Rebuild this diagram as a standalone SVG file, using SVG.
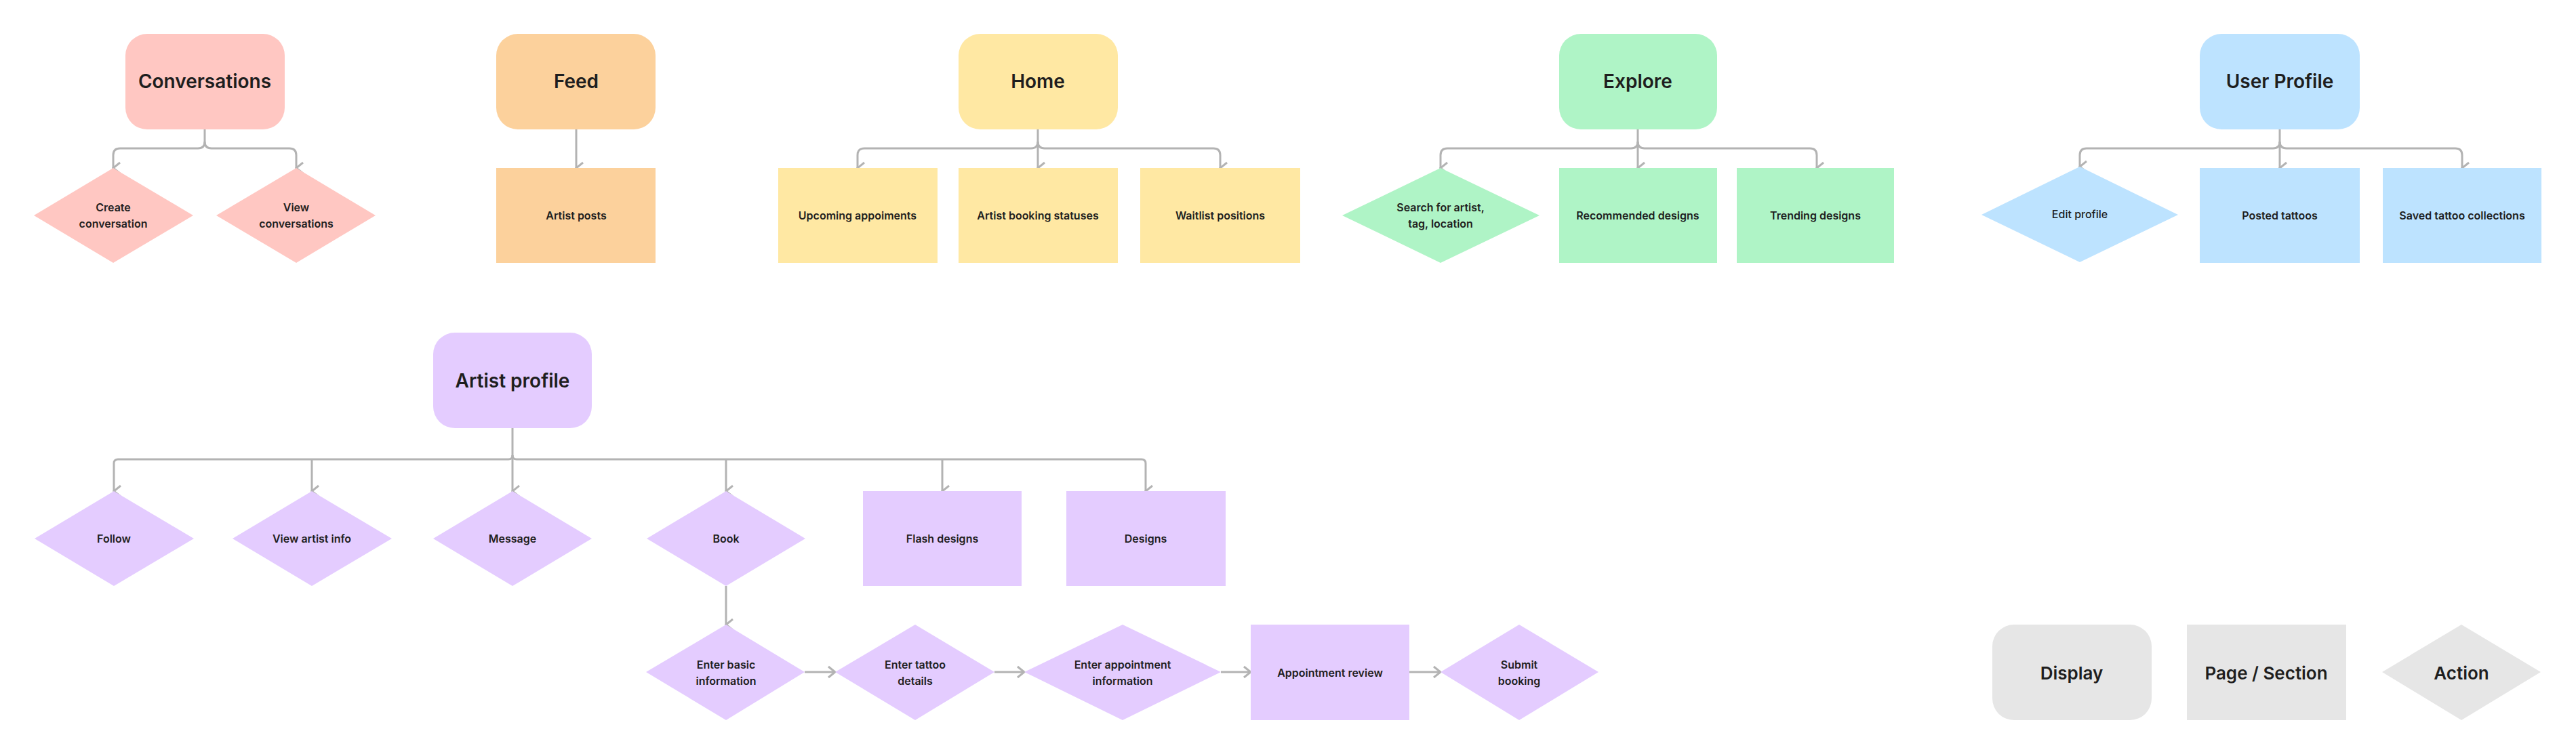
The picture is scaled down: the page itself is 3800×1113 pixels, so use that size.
<svg xmlns="http://www.w3.org/2000/svg" width="3800" height="1113" viewBox="0 0 3800 1113">
<defs>
<marker id="ah" viewBox="0 0 20 20" refX="10" refY="18" markerWidth="20" markerHeight="20" markerUnits="userSpaceOnUse" orient="auto-start-reverse">
<path d="M2 8 L10 18 L18 8" fill="none" stroke="#B3B3B3" stroke-width="3"/>
</marker>
<marker id="ar" viewBox="0 0 20 20" refX="18" refY="10" markerWidth="20" markerHeight="20" markerUnits="userSpaceOnUse" orient="0">
<path d="M8 2 L18 10 L8 18" fill="none" stroke="#B3B3B3" stroke-width="3"/>
</marker>
</defs>
<style>
text{font-family:Inter,"Liberation Sans",sans-serif;font-weight:600;fill:#1E1E1E;text-anchor:middle;dominant-baseline:central}
.t{font-size:28px}.s{font-size:16px}.l{font-size:26px}
.c path{fill:none;stroke:#B3B3B3;stroke-width:3}
.pk{fill:#FFC7C2}.or{fill:#FCD19C}.ye{fill:#FFE8A3}.gr{fill:#AFF4C6}.bl{fill:#BDE3FF}.pu{fill:#E4CCFF}.gy{fill:#E6E6E6}
</style>
<rect width="3800" height="1113" fill="#fff"/>
<g class="c" id="connectors">
<path d="M302 190 V209 Q302 219 292 219 H177 Q167 219 167 229 V248" marker-end="url(#ah)"/>
<path d="M302 209 Q302 219 312 219 H427 Q437 219 437 229 V248" marker-end="url(#ah)"/>
<path d="M850 190 V248" marker-end="url(#ah)"/>
<path d="M1531 190 V209 Q1531 219 1521 219 H1275 Q1265 219 1265 229 V248" marker-end="url(#ah)"/>
<path d="M1531 209 V248" marker-end="url(#ah)"/>
<path d="M1531 209 Q1531 219 1541 219 H1790 Q1800 219 1800 229 V248" marker-end="url(#ah)"/>
<path d="M2416 190 V209 Q2416 219 2406 219 H2135 Q2125 219 2125 229 V248" marker-end="url(#ah)"/>
<path d="M2416 209 V248" marker-end="url(#ah)"/>
<path d="M2416 209 Q2416 219 2426 219 H2670 Q2680 219 2680 229 V248" marker-end="url(#ah)"/>
<path d="M3363 190 V209 Q3363 219 3353 219 H3078 Q3068 219 3068 229 V246" marker-end="url(#ah)"/>
<path d="M3363 209 V248" marker-end="url(#ah)"/>
<path d="M3363 209 Q3363 219 3373 219 H3622 Q3632 219 3632 229 V248" marker-end="url(#ah)"/>
<path d="M756 632 V672 Q756 678 750 678 H174 Q168 678 168 684 V725" marker-end="url(#ah)"/>
<path d="M460 678 Q460 680 460 684 V725" marker-end="url(#ah)"/>
<path d="M756 672 V725" marker-end="url(#ah)"/>
<path d="M756 672 Q756 678 762 678 H1684 Q1690 678 1690 684 V725" marker-end="url(#ah)"/>
<path d="M1071 678 V725" marker-end="url(#ah)"/>
<path d="M1390 678 V725" marker-end="url(#ah)"/>
<path d="M1071 865 V922" marker-end="url(#ah)"/>
<path d="M1187 992 H1232" marker-end="url(#ar)"/>
<path d="M1467 992 H1511" marker-end="url(#ar)"/>
<path d="M1801 992 H1845" marker-end="url(#ar)"/>
<path d="M2079 992 H2125" marker-end="url(#ar)"/>
</g>
<g id="conversations"><rect class="pk" x="185" y="50" width="235" height="141" rx="32"/><text class="t" x="302" y="120">Conversations</text></g>
<g id="create-conversation"><polygon class="pk" points="167,248 285,318 167,388 50,318"/><text class="s" x="167" y="306">Create</text><text class="s" x="167" y="330">conversation</text></g>
<g id="view-conversations"><polygon class="pk" points="437,248 554,318 437,388 319,318"/><text class="s" x="437" y="306">View</text><text class="s" x="437" y="330">conversations</text></g>
<g id="feed"><rect class="or" x="732" y="50" width="235" height="141" rx="32"/><text class="t" x="850" y="120">Feed</text></g>
<g id="artist-posts"><rect class="or" x="732" y="248" width="235" height="140"/><text class="s" x="850" y="318">Artist posts</text></g>
<g id="home"><rect class="ye" x="1414" y="50" width="235" height="141" rx="32"/><text class="t" x="1531" y="120">Home</text></g>
<g id="upcoming"><rect class="ye" x="1148" y="248" width="235" height="140"/><text class="s" x="1265" y="318">Upcoming appoiments</text></g>
<g id="booking-statuses"><rect class="ye" x="1414" y="248" width="235" height="140"/><text class="s" x="1531" y="318">Artist booking statuses</text></g>
<g id="waitlist"><rect class="ye" x="1682" y="248" width="236" height="140"/><text class="s" x="1800" y="318">Waitlist positions</text></g>
<g id="explore"><rect class="gr" x="2300" y="50" width="233" height="141" rx="32"/><text class="t" x="2416" y="120">Explore</text></g>
<g id="search"><polygon class="gr" points="2125,248 2271,318 2125,388 1980,318"/><text class="s" x="2125" y="306">Search for artist,</text><text class="s" x="2125" y="330">tag, location</text></g>
<g id="recommended"><rect class="gr" x="2300" y="248" width="233" height="140"/><text class="s" x="2416" y="318">Recommended designs</text></g>
<g id="trending"><rect class="gr" x="2562" y="248" width="232" height="140"/><text class="s" x="2678" y="318">Trending designs</text></g>
<g id="user-profile"><rect class="bl" x="3245" y="50" width="236" height="141" rx="32"/><text class="t" x="3363" y="120">User Profile</text></g>
<g id="edit-profile"><polygon class="bl" points="3068,246 3213,317 3068,387 2923,317"/><text class="s" x="3068" y="316" style="font-weight:500">Edit profile</text></g>
<g id="posted"><rect class="bl" x="3245" y="248" width="236" height="140"/><text class="s" x="3363" y="318">Posted tattoos</text></g>
<g id="saved"><rect class="bl" x="3515" y="248" width="234" height="140"/><text class="s" x="3632" y="318">Saved tattoo collections</text></g>
<g id="artist-profile"><rect class="pu" x="639" y="491" width="234" height="141" rx="32"/><text class="t" x="756" y="562">Artist profile</text></g>
<g id="follow"><polygon class="pu" points="168,725 286,795 168,865 51,795"/><text class="s" x="168" y="795">Follow</text></g>
<g id="view-artist-info"><polygon class="pu" points="460,725 578,795 460,865 343,795"/><text class="s" x="460" y="795">View artist info</text></g>
<g id="message"><polygon class="pu" points="756,725 873,795 756,865 639,795"/><text class="s" x="756" y="795">Message</text></g>
<g id="book"><polygon class="pu" points="1071,725 1188,795 1071,865 954,795"/><text class="s" x="1071" y="795">Book</text></g>
<g id="flash-designs"><rect class="pu" x="1273" y="725" width="234" height="140"/><text class="s" x="1390" y="795">Flash designs</text></g>
<g id="designs"><rect class="pu" x="1573" y="725" width="235" height="140"/><text class="s" x="1690" y="795">Designs</text></g>
<g id="enter-basic"><polygon class="pu" points="1071,922 1187,992 1071,1063 953,992"/><text class="s" x="1071" y="981">Enter basic</text><text class="s" x="1071" y="1005">information</text></g>
<g id="enter-tattoo"><polygon class="pu" points="1350,922 1467,992 1350,1063 1232,992"/><text class="s" x="1350" y="981">Enter tattoo</text><text class="s" x="1350" y="1005">details</text></g>
<g id="enter-appointment"><polygon class="pu" points="1656,922 1801,992 1656,1063 1511,992"/><text class="s" x="1656" y="981">Enter appointment</text><text class="s" x="1656" y="1005">information</text></g>
<g id="appointment-review"><rect class="pu" x="1845" y="922" width="234" height="141"/><text class="s" x="1962" y="993">Appointment review</text></g>
<g id="submit"><polygon class="pu" points="2241,922 2358,992 2241,1063 2125,992"/><text class="s" x="2241" y="981">Submit</text><text class="s" x="2241" y="1005">booking</text></g>
<g id="legend-display"><rect class="gy" x="2939" y="922" width="235" height="141" rx="32"/><text class="l" x="3056" y="993">Display</text></g>
<g id="legend-page"><rect class="gy" x="3226" y="922" width="235" height="141"/><text class="l" x="3343" y="993">Page / Section</text></g>
<g id="legend-action"><polygon class="gy" points="3631,922 3748,992 3631,1063 3514,992"/><text class="l" x="3631" y="993">Action</text></g>
</svg>
